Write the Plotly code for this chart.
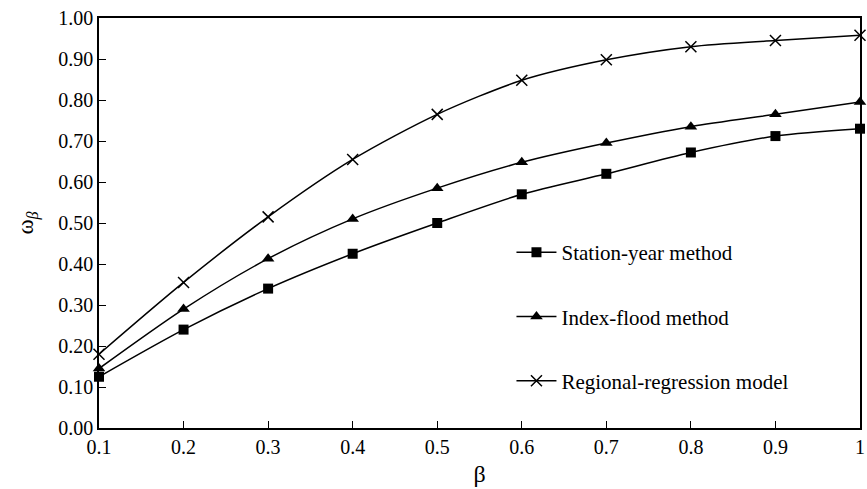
import plotly.graph_objects as go

beta = [0.1, 0.2, 0.3, 0.4, 0.5, 0.6, 0.7, 0.8, 0.9, 1.0]
station_year = [0.125, 0.24, 0.34, 0.425, 0.50, 0.57, 0.62, 0.672, 0.712, 0.73]
index_flood = [0.145, 0.29, 0.413, 0.51, 0.585, 0.648, 0.695, 0.735, 0.765, 0.795]
regional = [0.18, 0.355, 0.515, 0.655, 0.765, 0.848, 0.898, 0.93, 0.945, 0.958]

x_ticks = [0.1, 0.2, 0.3, 0.4, 0.5, 0.6, 0.7, 0.8, 0.9, 1.0]
x_labels = ["0.1", "0.2", "0.3", "0.4", "0.5", "0.6", "0.7", "0.8", "0.9", "1"]
y_ticks = [0.0, 0.1, 0.2, 0.3, 0.4, 0.5, 0.6, 0.7, 0.8, 0.9, 1.0]

font_family = "Liberation Serif, Times New Roman, serif"

fig = go.Figure()
series = [
    ("Station-year method", station_year, dict(symbol="square", size=10, color="black")),
    ("Index-flood method", index_flood, dict(symbol="triangle-up", size=11, color="black")),
    ("Regional-regression model", regional,
     dict(symbol="x-thin", size=11, color="black", line=dict(color="black", width=1.5))),
]
for i, (name, vals, mk) in enumerate(series):
    fig.add_trace(go.Scatter(
        x=beta, y=vals, name=name, mode="lines+markers",
        line=dict(color="black", width=1.5, shape="spline", smoothing=0.8),
        marker=mk, legendgroup=f"g{i}", cliponaxis=False,
    ))

fig.update_layout(
    width=867, height=489,
    margin=dict(l=99, r=2, t=18, b=61),
    paper_bgcolor="white", plot_bgcolor="white",
    font=dict(family=font_family, size=20, color="black"),
    showlegend=True,
    legend=dict(x=0.542, y=0.478, xanchor="left", yanchor="top",
                bgcolor="rgba(0,0,0,0)", tracegroupgap=34,
                font=dict(size=21), itemwidth=40),
    xaxis=dict(range=[0.1, 1.0], tickvals=x_ticks, ticktext=x_labels,
               ticks="inside", ticklen=7, tickcolor="black", tickwidth=1,
               showline=True, linecolor="black", linewidth=1.5, mirror=True,
               showgrid=False, zeroline=False, ticklabeloverflow="allow",
               title=dict(text="β", standoff=8)),
    yaxis=dict(range=[0.0, 1.0], tickvals=y_ticks, tickformat=".2f",
               ticks="inside", ticklen=7, tickcolor="black", tickwidth=1,
               showline=True, linecolor="black", linewidth=1.5, mirror=True,
               showgrid=False, zeroline=False, ticklabeloverflow="allow",
               title=dict(text="ω<sub><i>β</i></sub>", standoff=18,
                          font=dict(size=23))),
)

fig.write_html("out.html", config={"displayModeBar": False},
               post_script="document.body.style.margin='0px';")
